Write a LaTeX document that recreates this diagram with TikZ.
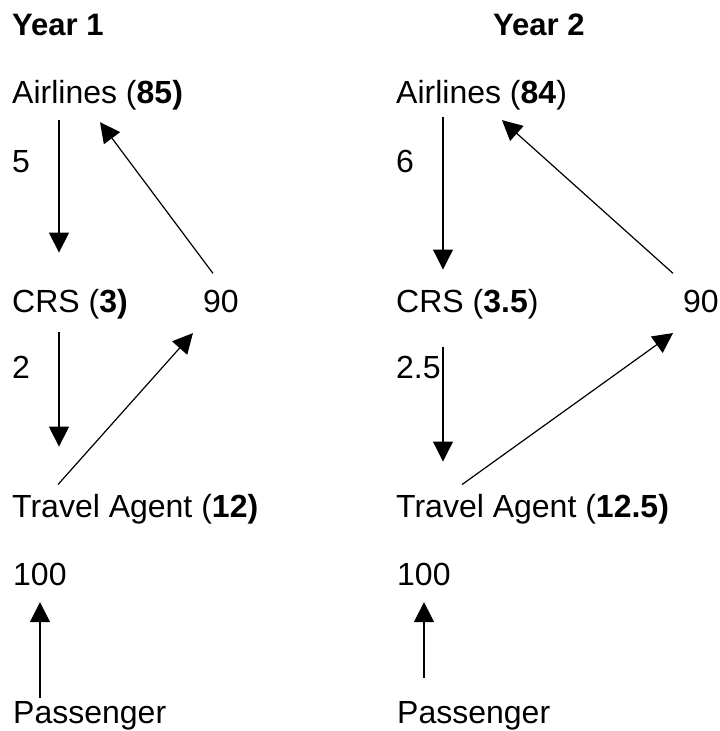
\documentclass[tikz,border=0pt]{standalone}
\usepackage{fontspec}
\setmainfont{Liberation Sans}
\usepackage{tikz}
\usetikzlibrary{arrows.meta}

\begin{document}
\begin{tikzpicture}[x=1pt, y=-1pt,
  lbl/.style={anchor=base west, inner sep=0pt, font=\fontsize{32}{38}\selectfont},
  hdr/.style={anchor=base west, inner sep=0pt, font=\fontsize{31}{37}\selectfont\bfseries},
  flow/.style={-{Triangle[width=20pt,length=20pt]}, line width=1.2pt}]
\useasboundingbox (0,0) rectangle (720,731);
% Year 1
\node[hdr] (year1) at (12,35) {Year 1};
\node[lbl] (air1) at (12,103) {Airlines (\textbf{85)}};
\node[lbl] (n5) at (12,172) {5};
\node[lbl] (crs1) at (12,312) {CRS (\textbf{3)}};
\node[lbl] (ninety1) at (203,312) {90};
\node[lbl] (n2) at (12,378) {2};
\node[lbl] (ta1) at (12,517) {Travel Agent (\textbf{12)}};
\node[lbl] (hundred1) at (13,585) {100};
\node[lbl] (pass1) at (13,723) {Passenger};
\draw[flow, shorten <=10.3pt, shorten >=36pt]
  ([xshift=47pt]air1.south west) -- ([xshift=47pt]crs1.north west);
\draw[flow, shorten <=13.3pt, shorten >=47pt]
  ([xshift=47pt]crs1.south west) -- ([xshift=47pt]ta1.north west);
\draw[flow, shorten <=12.2pt, shorten >=27.6pt]
  ([xshift=37.9pt]ta1.north west) -- ([xshift=8.3pt]ninety1.south west);
\draw[flow, shorten <=20.1pt, shorten >=15.4pt]
  ([xshift=22pt]ninety1.north west) -- ([xshift=78.8pt]air1.south west);
\draw[flow, shorten <=3pt, shorten >=16.6pt]
  ([xshift=27pt]pass1.north west) -- ([xshift=27pt]hundred1.south west);
% Year 2
\node[hdr] (year2) at (493,35) {Year 2};
\node[lbl] (air2) at (396,103) {Airlines (\textbf{84})};
\node[lbl] (n6) at (396,172) {6};
\node[lbl] (crs2) at (396,312) {CRS (\textbf{3.5})};
\node[lbl] (ninety2) at (683,312) {90};
\node[lbl] (n25) at (396,378) {2.5};
\node[lbl] (ta2) at (396,517) {Travel Agent (\textbf{12.5)}};
\node[lbl] (hundred2) at (397,585) {100};
\node[lbl] (pass2) at (397,723) {Passenger};
\draw[flow, shorten <=7.3pt, shorten >=19.1pt]
  ([xshift=47pt]air2.south west) -- ([xshift=47pt]crs2.north west);
\draw[flow, shorten <=28.3pt, shorten >=32.1pt]
  ([xshift=47pt]crs2.south west) -- ([xshift=47pt]ta2.north west);
\draw[flow, shorten <=15.5pt, shorten >=35.2pt]
  ([xshift=53.4pt]ta2.north west) -- ([xshift=18.6pt]ninety2.south west);
\draw[flow, shorten <=24.1pt, shorten >=15.4pt]
  ([xshift=8pt]ninety2.north west) -- ([xshift=94.5pt]air2.south west);
\draw[flow, shorten <=23.1pt, shorten >=16.6pt]
  ([xshift=27pt]pass2.north west) -- ([xshift=27pt]hundred2.south west);
\end{tikzpicture}
\end{document}
